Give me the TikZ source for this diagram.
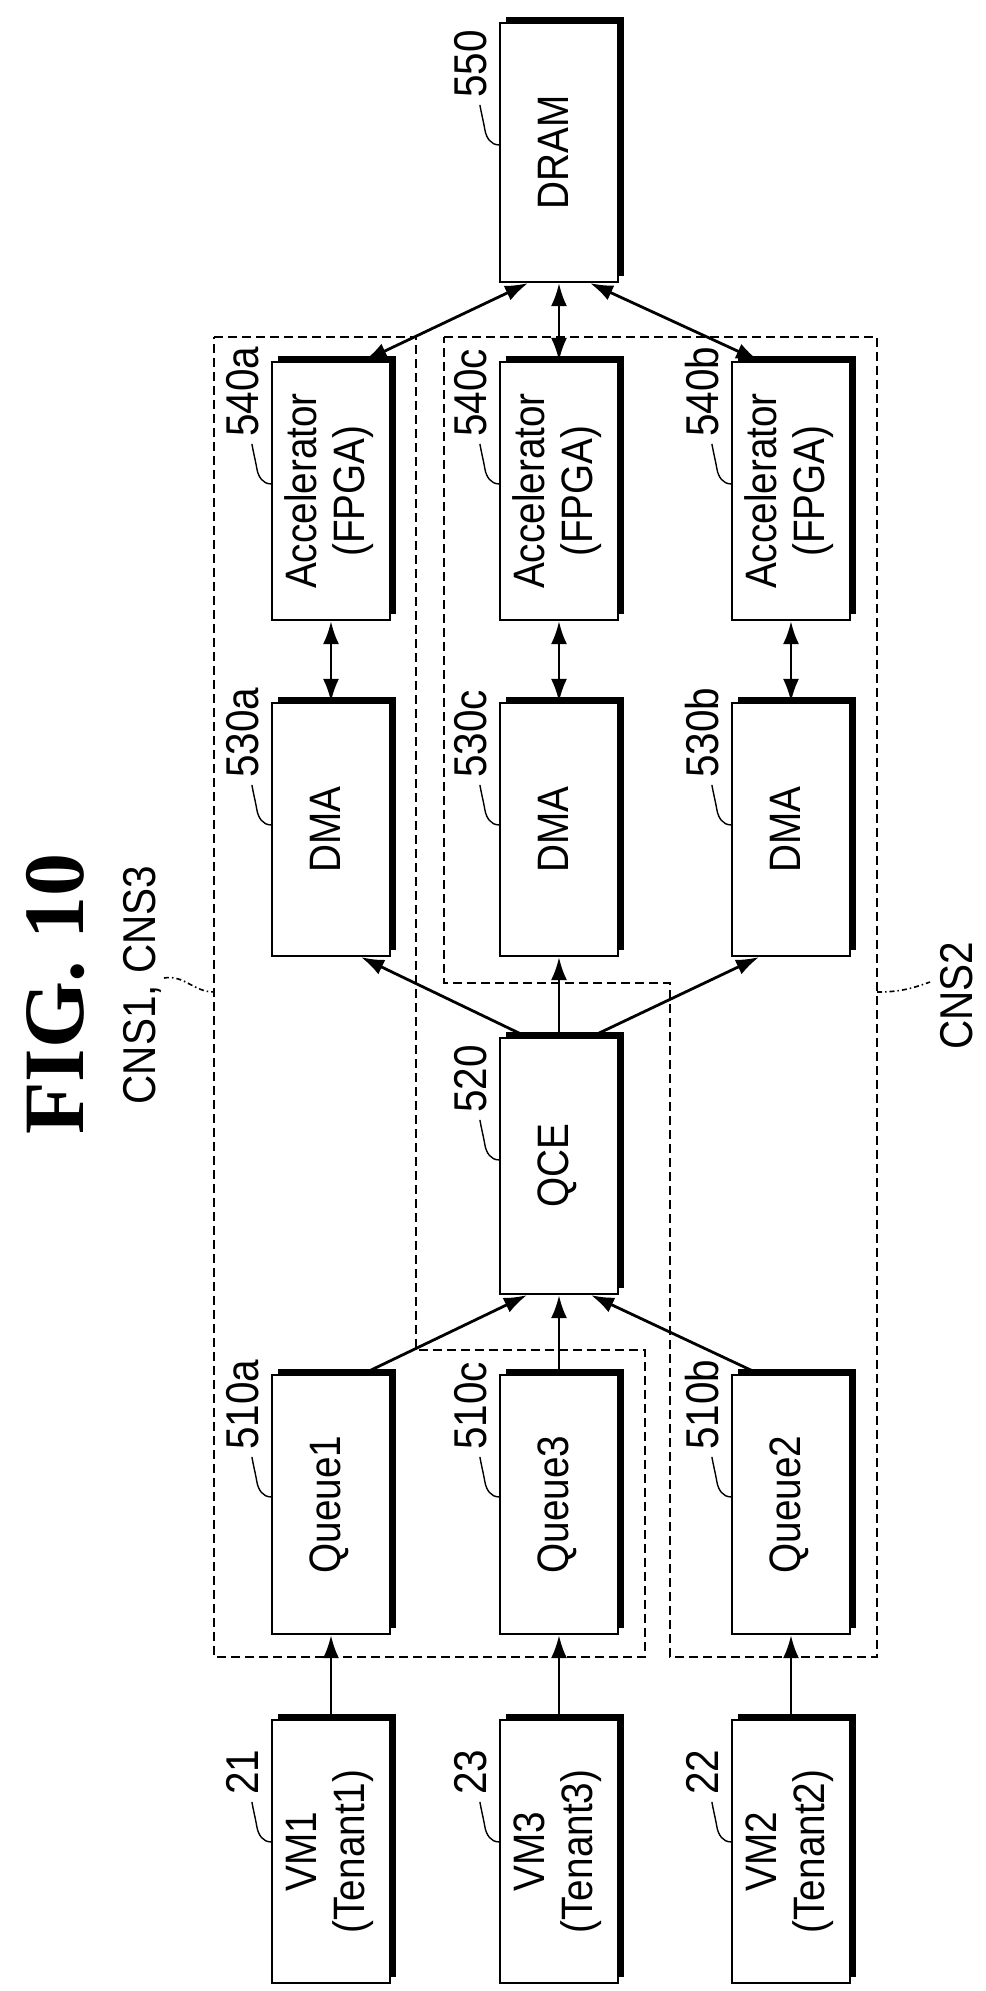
\documentclass[tikz,border=0pt]{standalone}
\usepackage{fontspec}
\setmainfont{Liberation Sans}
\newfontfamily\nar[FakeStretch=0.88]{Liberation Sans}
\newfontfamily\figf{Liberation Serif}
\usetikzlibrary{arrows.meta}
\tikzset{
  blk/.style={draw, line width=2.2pt, inner sep=0pt, font=\nar\fontsize{44}{48}\selectfont},
  lbl/.style={rotate=90, anchor=base west, inner sep=0pt, font=\nar\fontsize{46}{50}\selectfont},
  lead/.style={line width=1.4pt},
  con/.style={line width=2.8pt, -{Latex[length=23pt,width=16pt]}},
  dcon/.style={line width=2.8pt, {Latex[length=23pt,width=16pt]}-{Latex[length=23pt,width=16pt]}},
  grp/.style={line width=1.4pt, dash pattern=on 9pt off 5pt},
  ldash/.style={line width=1.6pt, dash pattern=on 5pt off 3pt on 1.5pt off 3pt},
}
\newcommand\blkbox[7]{% name cx cy w h text label
  \node[blk, minimum width=#4pt, minimum height=#5pt] (#1) at (#2,#3) {\rotatebox{90}{\begin{tabular}{@{}c@{}}#6\end{tabular}}};
  \draw[line width=4.8pt] ([xshift=7pt,yshift=2.3pt]#1.north west) -- ([xshift=2.3pt,yshift=2.3pt]#1.north east) -- ([xshift=2.3pt,yshift=7pt]#1.south east);
  \node[lbl] (#1l) at ([xshift=-12pt,yshift=-76pt]#1.north west) {#7};
  \draw[lead] ([xshift=-19pt,yshift=-83pt]#1.north west) to[out=-80,in=100] ([xshift=-14pt,yshift=-108pt]#1.north west) to[out=-80,in=180] ([yshift=-123pt]#1.north west);
}
\begin{document}
\begin{tikzpicture}[x=1pt,y=-1pt]
\useasboundingbox (0,0) rectangle (985,1991);
% groups
\draw[grp] (214,337) -- (416,337) -- (416,1350) -- (645,1350) -- (645,1657) -- (214,1657) -- cycle;
\draw[grp] (444,337) -- (877,337) -- (877,1657) -- (670,1657) -- (670,983) -- (444,983) -- cycle;
% boxes
\blkbox{dram}{559}{152.5}{118}{259}{DRAM}{550}
\blkbox{acca}{331}{491}{118}{258}{Accelerator\\(FPGA)}{540a}
\blkbox{accc}{559}{491}{118}{258}{Accelerator\\(FPGA)}{540c}
\blkbox{accb}{791}{491}{118}{258}{Accelerator\\(FPGA)}{540b}
\blkbox{dmaa}{331}{829.5}{118}{253}{DMA}{530a}
\blkbox{dmac}{559}{829.5}{118}{253}{DMA}{530c}
\blkbox{dmab}{791}{829.5}{118}{253}{DMA}{530b}
\blkbox{qce}{559}{1166}{118}{256}{QCE}{520}
\blkbox{qa}{331}{1504.5}{118}{259}{Queue1}{510a}
\blkbox{qc}{559}{1504.5}{118}{259}{Queue3}{510c}
\blkbox{qb}{791}{1504.5}{118}{259}{Queue2}{510b}
\blkbox{vma}{331}{1851.5}{118}{263}{VM1\\(Tenant1)}{21}
\blkbox{vmc}{559}{1851.5}{118}{263}{VM3\\(Tenant3)}{23}
\blkbox{vmb}{791}{1851.5}{118}{263}{VM2\\(Tenant2)}{22}
% connectors
\draw[con] (vma) -- (qa);
\draw[con] (vmc) -- (qc);
\draw[con] (vmb) -- (qb);
\draw[con] ([xshift=32pt]qa.north) -- ([xshift=-32pt]qce.south);
\draw[con] (qc) -- (qce);
\draw[con] ([xshift=-32pt]qb.north) -- ([xshift=32pt]qce.south);
\draw[con] ([xshift=-32pt]qce.north) -- ([xshift=30pt]dmaa.south);
\draw[con] (qce) -- (dmac);
\draw[con] ([xshift=32pt]qce.north) -- ([xshift=-32pt]dmab.south);
\draw[dcon] (dmaa) -- (acca);
\draw[dcon] (dmac) -- (accc);
\draw[dcon] (dmab) -- (accb);
\draw[dcon] ([xshift=-31pt]dram.south) -- ([xshift=33pt]acca.north);
\draw[dcon] (dram) -- (accc);
\draw[dcon] ([xshift=31pt]dram.south) -- ([xshift=-32pt]accb.north);
% titles
\node[rotate=90, font=\figf\bfseries\fontsize{86}{90}\selectfont, inner sep=0pt] (fig) at (56,994) {FIG. 10};
\node[rotate=90, font=\nar\fontsize{46}{50}\selectfont, inner sep=0pt] (cns13) at (142,985) {CNS1, CNS3};
\coordinate (c13) at (214,992);
\draw[ldash] (164,978) to[out=10,in=180] (c13);
\node[rotate=90, anchor=base west, font=\nar\fontsize{46}{50}\selectfont, inner sep=0pt] (cns2) at (972,1050) {CNS2};
\coordinate (c2) at (877,992);
\draw[ldash] (c2) to[out=0,in=200] (930,982);
\end{tikzpicture}
\end{document}
